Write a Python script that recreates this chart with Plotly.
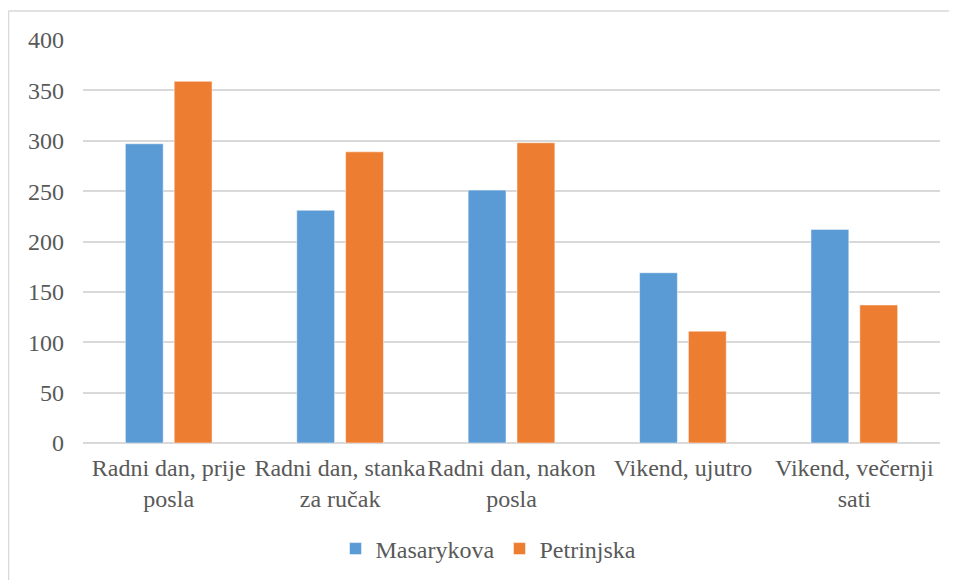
import plotly.graph_objects as go

categories = ["Radni dan, prije<br>posla", "Radni dan, stanka<br>za ručak", "Radni dan, nakon<br>posla",
              "Vikend, ujutro", "Vikend, večernji<br>sati"]
masarykova = [297, 231, 251, 169, 212]
petrinjska = [359, 289, 298, 111, 137]
y_ticks = [0, 50, 100, 150, 200, 250, 300, 350, 400]

FONT = "Liberation Serif"
TXT = "#595959"

fig = go.Figure()
fig.add_trace(go.Bar(name="Masarykova", x=categories, y=masarykova,
                     marker=dict(color="#5B9BD5", line=dict(color="#FFFFFF", width=0.5))))
fig.add_trace(go.Bar(name="Petrinjska", x=categories, y=petrinjska,
                     marker=dict(color="#ED7D31", line=dict(color="#FFFFFF", width=0.5))))

OFF = 8  # browser body margin
W, H = 957 - OFF, 580 - OFF
L, R, T, B = 83 - OFF, 17, 40 - OFF, 137
pw, ph = W - L - R, H - T - B

def px_x(p):
    return (p - OFF - L) / pw

def px_y(p):
    return (H - B - (p - OFF)) / ph

fig.update_layout(
    width=W, height=H,
    margin=dict(l=L, r=R, t=T, b=B, autoexpand=False),
    paper_bgcolor="white", plot_bgcolor="white",
    barmode="group", bargap=0.43, bargroupgap=0.225,
    font=dict(family=FONT, size=24, color=TXT),
    showlegend=True,
    legend=dict(orientation="h", x=0.5 - 23 / pw, xanchor="center", y=px_y(549), yanchor="middle",
                font=dict(family=FONT, size=24, color=TXT), itemwidth=30,
                bgcolor="rgba(0,0,0,0)"),
    xaxis=dict(showgrid=False, showline=False, ticks="", tickfont=dict(family=FONT, size=24, color=TXT),
               tickangle=0, automargin=False, ticklabelstandoff=8),
    yaxis=dict(range=[0, 400], tickvals=y_ticks, showgrid=True, gridcolor="#D9D9D9", gridwidth=1.5,
               zeroline=True, zerolinecolor="#D9D9D9", zerolinewidth=1.5, showline=False,
               ticks="", ticklabelstandoff=18, tickfont=dict(family=FONT, size=24, color=TXT),
               automargin=False),
    shapes=[
        dict(type="line", xref="paper", yref="paper", x0=px_x(8.5), x1=px_x(960),
             y0=px_y(11), y1=px_y(11), line=dict(color="#D9D9D9", width=1.5)),
        dict(type="line", xref="paper", yref="paper", x0=px_x(8.5), x1=px_x(8.5),
             y0=px_y(11), y1=px_y(590), line=dict(color="#D9D9D9", width=1.5)),
    ],
)

fig.write_html("out.html")
